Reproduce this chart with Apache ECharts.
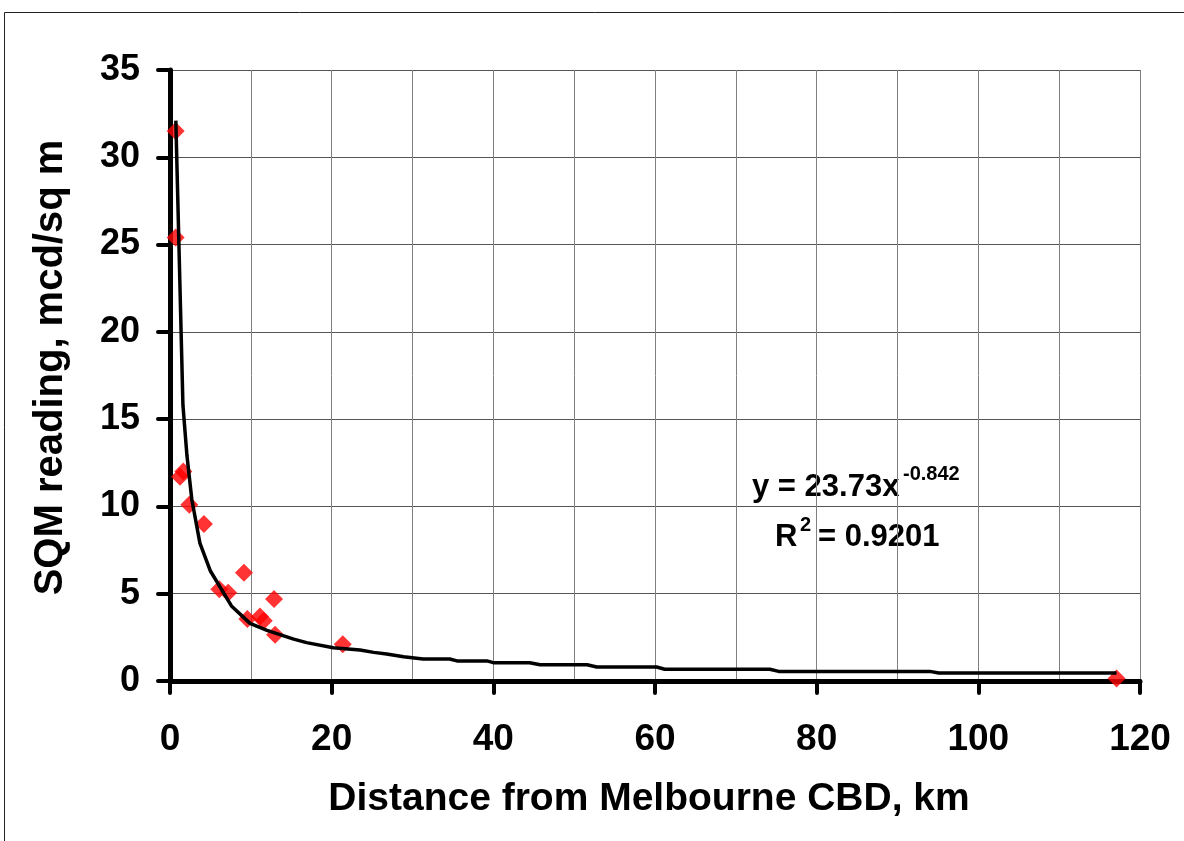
<!DOCTYPE html>
<html>
<head>
<meta charset="utf-8">
<script src="https://cdn.jsdelivr.net/npm/echarts@6/dist/echarts.min.js"></script>
<style>
html,body{margin:0;padding:0;background:#fff;}
#chart{width:1184px;height:841px;}
</style>
</head>
<body>
<div id="chart"></div>
<script>
// Measured points
var distKm = [0.7, 0.7, 1.24, 1.65, 2.39, 4.2, 6.1, 7.2, 9.15, 9.57, 11.13, 11.6, 12.87, 13.0, 21.37, 117.1];
var sqmReading = [31.5, 25.4, 11.7, 12.0, 10.1, 9.0, 5.25, 5.05, 6.2, 3.55, 3.7, 3.45, 4.7, 2.65, 2.1, 0.15];

// Power trendline as drawn
var trendX = [0.72, 1.6, 2.1, 2.7, 3.7, 5.0, 7.6, 9.9, 12.0, 15.3, 16.9, 20.2, 23.5, 25.2, 26.8, 28.9, 31.3, 34.6, 35.5, 39.2, 40.0, 44.5, 45.8, 51.6, 52.8, 60.2, 61.2, 74.2, 75.3, 94.0, 95.1, 117.1];
var trendY = [32.1, 15.8, 12.9, 10.4, 7.9, 6.3, 4.3, 3.3, 2.9, 2.4, 2.2, 1.9, 1.78, 1.64, 1.55, 1.39, 1.26, 1.26, 1.15, 1.15, 1.05, 1.05, 0.93, 0.93, 0.80, 0.80, 0.67, 0.67, 0.55, 0.55, 0.46, 0.46];

var xTicks = [0, 20, 40, 60, 80, 100, 120];
var yTicks = [0, 5, 10, 15, 20, 25, 30, 35];

var xTitle = 'Distance from Melbourne CBD, km';
var yTitle = 'SQM reading, mcd/sq m';
var eqMain = 'y = 23.73x';
var eqExp = '-0.842';
var r2Base = 'R';
var r2Exp = '2';
var r2Value = '= 0.9201';

var FONT = '"Liberation Sans", Arial, sans-serif';

var scatterData = distKm.map(function (x, i) { return [x, sqmReading[i]]; });
var trendData = trendX.map(function (x, i) { return [x, trendY[i]]; });

var chart = echarts.init(document.getElementById('chart'), null, {renderer: 'canvas'});

var option = {
  backgroundColor: '#ffffff',
  animation: false,
  grid: {left: 170, right: 44, top: 70, bottom: 160, containLabel: false},
  xAxis: {
    type: 'value',
    min: xTicks[0],
    max: xTicks[xTicks.length - 1],
    interval: 20,
    name: xTitle,
    nameLocation: 'middle',
    nameGap: 99,
    nameTextStyle: {fontFamily: FONT, fontWeight: 'bold', fontSize: 39, color: '#000', padding: [0, 12, 0, 0]},
    axisLine: {show: true, onZero: false, lineStyle: {color: '#000', width: 5, cap: 'round'}},
    axisTick: {show: true, inside: false, length: 12, lineStyle: {color: '#000', width: 4, cap: 'round'}},
    axisLabel: {margin: 40, fontFamily: FONT, fontWeight: 'bold', fontSize: 37, color: '#000'},
    splitLine: {show: true, lineStyle: {color: '#808080', width: 1}},
    minorTick: {show: false, splitNumber: 2},
    minorSplitLine: {show: true, lineStyle: {color: '#808080', width: 1}}
  },
  yAxis: {
    type: 'value',
    min: yTicks[0],
    max: yTicks[yTicks.length - 1],
    interval: 5,
    name: yTitle,
    nameLocation: 'middle',
    nameGap: 99,
    nameRotate: 90,
    nameTextStyle: {fontFamily: FONT, fontWeight: 'bold', fontSize: 40, color: '#000', padding: [0, 0, 0, 16]},
    axisLine: {show: true, onZero: false, lineStyle: {color: '#000', width: 5, cap: 'round'}},
    axisTick: {show: true, inside: false, length: 12, lineStyle: {color: '#000', width: 4, cap: 'round'}},
    axisLabel: {margin: 30, fontFamily: FONT, fontWeight: 'bold', fontSize: 36, color: '#000'},
    splitLine: {show: true, lineStyle: {color: '#555', width: 1}}
  },
  series: [
    {
      type: 'scatter',
      data: scatterData,
      symbol: 'diamond',
      symbolSize: 18,
      itemStyle: {color: '#ff0000'},
      z: 3,
      clip: false
    },
    {
      type: 'line',
      data: trendData,
      showSymbol: false,
      symbol: 'none',
      lineStyle: {color: '#000', width: 3.5, join: 'round'},
      z: 4,
      clip: false
    }
  ],
  graphic: [
    {type: 'rect', silent: true, shape: {x: 4.5, y: 12.5, width: 1300, height: 1000},
     style: {fill: 'none', stroke: '#222', lineWidth: 1}},
    {type: 'text', left: 752, top: 472, style: {text: eqMain, font: 'bold 31px ' + FONT, fill: '#000'}},
    {type: 'text', left: 903, top: 464, style: {text: eqExp, font: 'bold 20px ' + FONT, fill: '#000'}},
    {type: 'text', left: 775, top: 522, style: {text: r2Base, font: 'bold 31px ' + FONT, fill: '#000'}},
    {type: 'text', left: 800, top: 515, style: {text: r2Exp, font: 'bold 20px ' + FONT, fill: '#000'}},
    {type: 'text', left: 818, top: 522, style: {text: r2Value, font: 'bold 31px ' + FONT, fill: '#000'}}
  ]
};
chart.setOption(option);
</script>
</body>
</html>
